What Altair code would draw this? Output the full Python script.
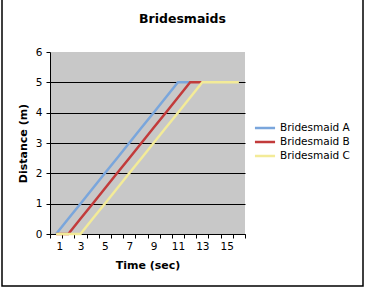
import altair as alt
import pandas as pd

time = list(range(1, 17))
bridesmaid_a = [0, 0.5, 1, 1.5, 2, 2.5, 3, 3.5, 4, 4.5, 5, 5, None, None, None, None]
bridesmaid_b = [0, 0, 0.5, 1, 1.5, 2, 2.5, 3, 3.5, 4, 4.5, 5, 5, None, None, None]
bridesmaid_c = [0, 0, 0, 0.5, 1, 1.5, 2, 2.5, 3, 3.5, 4, 4.5, 5, 5, 5, 5]
series_names = ["Bridesmaid A", "Bridesmaid B", "Bridesmaid C"]
series_colors = ["#7aa6dc", "#c23b3b", "#f3eb98"]

rows = []
for name, vals in zip(series_names, [bridesmaid_a, bridesmaid_b, bridesmaid_c]):
    for t, v in zip(time, vals):
        if v is not None:
            rows.append({"Time": t, "Distance": v, "Series": name})
df = pd.DataFrame(rows)

FONT = "DejaVu Sans"
W, H = 195, 182

tick_vals = [i + 0.5 for i in range(0, 17)]

lines = alt.Chart(df).mark_line(strokeWidth=2.5, clip=False).encode(
    x=alt.X("Time:Q",
            scale=alt.Scale(domain=[0.5, 16.5], nice=False, zero=False),
            axis=alt.Axis(values=tick_vals,
                          labelExpr="((datum.value + 0.5) % 2 == 1 && datum.value < 16) ? (datum.value + 0.5) : ''",
                          labelOffset=6.1, tickSize=4, tickColor="black",
                          domainColor="black", grid=False,
                          title="Time (sec)", titleFontWeight="bold",
                          titleFontSize=11, titlePadding=8,
                          labelFontSize=10.5, labelPadding=3,
                          labelColor="black", titleColor="black",
                          labelFont=FONT, titleFont=FONT,
                          labelOverlap=False)),
    y=alt.Y("Distance:Q",
            scale=alt.Scale(domain=[0, 6], nice=False),
            axis=alt.Axis(values=[0, 1, 2, 3, 4, 5, 6], tickSize=4,
                          tickColor="black", domainColor="black",
                          grid=True,
                          gridColor=alt.condition("datum.value == 6", alt.value("transparent"), alt.value("black")),
                          gridWidth=1.2,
                          title="Distance (m)", titleFontWeight="bold",
                          titleFontSize=11, titlePadding=7,
                          labelFontSize=10.5, labelPadding=4,
                          labelColor="black", titleColor="black",
                          labelFont=FONT, titleFont=FONT)),
    color=alt.Color("Series:N",
                    scale=alt.Scale(domain=series_names, range=series_colors),
                    legend=alt.Legend(title=None, orient="none",
                                      legendX=207, legendY=68,
                                      symbolType="M-1.5,0H1.5", symbolStrokeWidth=2.5,
                                      symbolSize=180, labelFontSize=10.5,
                                      labelFont=FONT, labelColor="black",
                                      rowPadding=-1, labelOffset=7)),
    order=alt.Order("Series:N", sort="ascending"),
)

frame = alt.Chart(pd.DataFrame({"a": [0]})).mark_rect(
    fill="transparent", stroke="black", strokeWidth=1.5, clip=False
).encode(x=alt.value(-48), x2=alt.value(W + 118), y=alt.value(-55), y2=alt.value(H + 52))

chart = alt.layer(lines, frame).properties(
    width=W, height=H,
    title=alt.TitleParams("Bridesmaids", font=FONT, fontSize=12.5, fontWeight="bold",
                          color="black", anchor="middle", dx=35, offset=-29),
    padding={"left": 50, "top": 52, "right": 122, "bottom": 54},
    autosize=alt.AutoSizeParams(type="none"),
    background="white",
).configure_view(fill="#c8c8c8", stroke=None)

chart.save("out.html", embed_options={"renderer": "svg", "actions": False})
